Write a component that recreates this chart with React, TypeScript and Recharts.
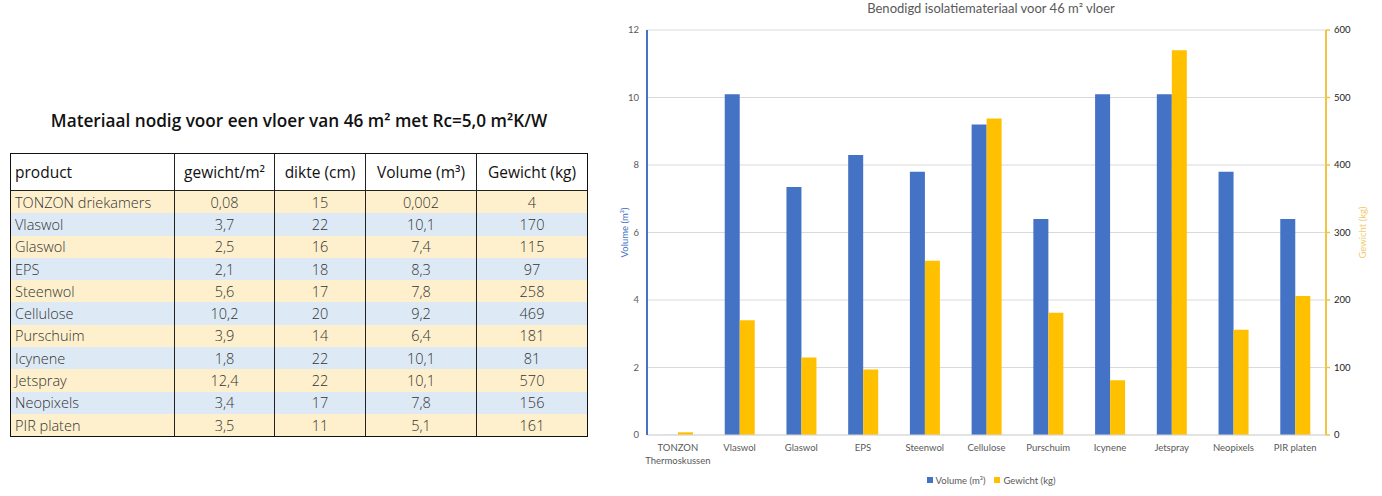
import React from 'react';
import { BarChart, Bar, XAxis, YAxis, CartesianGrid, Legend } from 'recharts';

// ---------- chart data ----------
const categories = [
  'TONZON Thermoskussen', 'Vlaswol', 'Glaswol', 'EPS', 'Steenwol', 'Cellulose',
  'Purschuim', 'Icynene', 'Jetspray', 'Neopixels', 'PIR platen',
];
const volumeValues = [0.002, 10.1, 7.35, 8.3, 7.8, 9.2, 6.4, 10.1, 10.1, 7.8, 6.4];
const weightValues = [4, 170, 115, 97, 258, 469, 181, 81, 570, 156, 206];
const volumeTicks = [0, 2, 4, 6, 8, 10, 12];
const weightTicks = [0, 100, 200, 300, 400, 500, 600];

// ---------- table data ----------
const tableHeaders = ['product', 'gewicht/m²', 'dikte (cm)', 'Volume (m³)', 'Gewicht (kg)'];
const tableProducts = [
  'TONZON driekamers', 'Vlaswol', 'Glaswol', 'EPS', 'Steenwol', 'Cellulose',
  'Purschuim', 'Icynene', 'Jetspray', 'Neopixels', 'PIR platen',
];
const tableWeightPerM2 = ['0,08', '3,7', '2,5', '2,1', '5,6', '10,2', '3,9', '1,8', '12,4', '3,4', '3,5'];
const tableThickness = ['15', '22', '16', '18', '17', '20', '14', '22', '22', '17', '11'];
const tableVolume = ['0,002', '10,1', '7,4', '8,3', '7,8', '9,2', '6,4', '10,1', '10,1', '7,8', '5,1'];
const tableWeight = ['4', '170', '115', '97', '258', '469', '181', '81', '570', '156', '161'];

const chartData = categories.map((name, i) => ({
  name,
  volume: volumeValues[i],
  weight: weightValues[i],
}));

const BLUE = '#4472C4';
const YELLOW = '#FFC000';
const AXIS_YELLOW = '#F2C445';
const TEXT = '#595959';
const FONT = 'Lato, sans-serif';

const colWidths = [163, 100, 91, 111, 111];

const XTick = (props: any) => {
  const { x, y, payload } = props;
  const lines =
    payload.value === 'TONZON Thermoskussen' ? ['TONZON', 'Thermoskussen'] : [payload.value];
  return (
    <text x={x} y={y} textAnchor="middle" fill={TEXT} fontSize={9.5} fontFamily={FONT}>
      {lines.map((l: string, i: number) => (
        <tspan key={i} x={x} dy={i === 0 ? 8 : 13}>
          {l}
        </tspan>
      ))}
    </text>
  );
};

const LegendContent = () => (
  <div
    style={{
      display: 'flex',
      justifyContent: 'center',
      alignItems: 'center',
      height: 16,
      fontFamily: FONT,
      fontSize: 9.5,
      color: TEXT,
    }}
  >
    <span style={{ display: 'inline-block', width: 6, height: 6, background: BLUE, marginRight: 3 }} />
    <span style={{ marginRight: 9 }}>Volume (m³)</span>
    <span style={{ display: 'inline-block', width: 6, height: 6, background: YELLOW, marginRight: 3 }} />
    <span>Gewicht (kg)</span>
  </div>
);

const Table = () => {
  const rows = tableProducts.map((p, i) => [
    p,
    tableWeightPerM2[i],
    tableThickness[i],
    tableVolume[i],
    tableWeight[i],
  ]);
  return (
    <div
      style={{
        position: 'absolute',
        left: 10,
        top: 153,
        width: 576,
        border: '1.5px solid #111',
        fontFamily: '"Open Sans", sans-serif',
        boxSizing: 'content-box',
      }}
    >
      <div style={{ display: 'flex', height: 36, borderBottom: '1px solid #222', background: '#fff' }}>
        {tableHeaders.map((h, c) => (
          <div
            key={c}
            style={{
              width: colWidths[c],
              boxSizing: 'border-box',
              borderLeft: c === 0 ? 'none' : '1px solid #222',
              display: 'flex',
              alignItems: 'center',
              justifyContent: c === 0 ? 'flex-start' : 'center',
              paddingLeft: c === 0 ? 4 : 0,
              fontSize: 15.5,
              color: '#111',
            }}
          >
            {h}
          </div>
        ))}
      </div>
      {rows.map((r, i) => (
        <div
          key={i}
          style={{
            display: 'flex',
            height: 22.3,
            background: i % 2 === 0 ? '#FEF0CC' : '#DDEAF6',
          }}
        >
          {r.map((v, c) => (
            <div
              key={c}
              style={{
                width: colWidths[c],
                boxSizing: 'border-box',
                borderLeft: c === 0 ? 'none' : '1px solid #222',
                display: 'flex',
                alignItems: 'center',
                justifyContent: c === 0 ? 'flex-start' : 'center',
                paddingLeft: c === 0 ? 4 : 0,
                fontSize: 14.5,
                fontWeight: 300,
                color: '#333',
              }}
            >
              {v}
            </div>
          ))}
        </div>
      ))}
    </div>
  );
};

export default function App() {
  return (
    <div
      style={{
        position: 'absolute',
        left: 0,
        top: 0,
        width: 1382,
        height: 496,
        background: '#fff',
        overflow: 'hidden',
      }}
    >
      <div
        style={{
          position: 'absolute',
          left: 0,
          top: 108,
          width: 598,
          textAlign: 'center',
          fontFamily: '"Open Sans", sans-serif',
          fontWeight: 600,
          fontSize: 17.2,
          color: '#111',
          lineHeight: '26px',
        }}
      >
        Materiaal nodig voor een vloer van 46 m² met Rc=5,0 m²K/W
      </div>
      <Table />

      <div
        style={{
          position: 'absolute',
          left: 600,
          top: 0,
          width: 782,
          textAlign: 'center',
          fontFamily: FONT,
          fontSize: 13,
          color: TEXT,
          lineHeight: '17px',
        }}
      >
        Benodigd isolatiemateriaal voor 46 m² vloer
      </div>

      <div style={{ position: 'absolute', left: 600, top: 0 }}>
        <BarChart
          width={782}
          height={496}
          data={chartData}
          margin={{ top: 30, right: 0, bottom: 0, left: 0 }}
          barGap={0}
          barSize={15}
        >
          <CartesianGrid yAxisId="left" vertical={false} stroke="#D9D9D9" strokeWidth={1} />
          <XAxis
            dataKey="name"
            height={37}
            interval={0}
            tickLine={false}
            axisLine={{ stroke: '#D9D9D9' }}
            tick={<XTick />}
          />
          <YAxis
            yAxisId="left"
            orientation="left"
            width={47}
            domain={[0, 12]}
            ticks={volumeTicks}
            tickLine={false}
            tickSize={6}
            tickMargin={2}
            axisLine={{ stroke: BLUE, strokeWidth: 2 }}
            tick={{ fill: TEXT, fontSize: 9.5, fontFamily: FONT }}
            label={{
              content: (p: any) => {
                const vb = p.viewBox;
                const cx = vb.x + 24;
                const cy = vb.y + vb.height / 2;
                return (
                  <text
                    x={cx}
                    y={cy}
                    transform={`rotate(-90 ${cx} ${cy})`}
                    textAnchor="middle"
                    dominantBaseline="central"
                    fill={BLUE}
                    fontSize={9.5}
                    fontFamily={FONT}
                  >
                    Volume (m³)
                  </text>
                );
              },
            }}
          />
          <YAxis
            yAxisId="right"
            orientation="right"
            width={56}
            domain={[0, 600]}
            ticks={weightTicks}
            tickLine={{ stroke: AXIS_YELLOW, strokeWidth: 1.5 }}
            tickSize={4}
            tickMargin={4}
            axisLine={{ stroke: AXIS_YELLOW, strokeWidth: 2 }}
            tick={{ fill: '#222', fontSize: 9.5, fontFamily: FONT }}
            label={{
              content: (p: any) => {
                const vb = p.viewBox;
                const cx = vb.x + 36;
                const cy = vb.y + vb.height / 2;
                return (
                  <text
                    x={cx}
                    y={cy}
                    transform={`rotate(-90 ${cx} ${cy})`}
                    textAnchor="middle"
                    dominantBaseline="central"
                    fill="#F2CB6B"
                    fontSize={9.5}
                    fontFamily={FONT}
                  >
                    Gewicht (kg)
                  </text>
                );
              },
            }}
          />
          <Legend verticalAlign="bottom" wrapperStyle={{ height: 24 }} content={<LegendContent />} />
          <Bar yAxisId="left" dataKey="volume" name="Volume (m³)" fill={BLUE} isAnimationActive={false} />
          <Bar yAxisId="right" dataKey="weight" name="Gewicht (kg)" fill={YELLOW} isAnimationActive={false} />
        </BarChart>
      </div>
    </div>
  );
}
